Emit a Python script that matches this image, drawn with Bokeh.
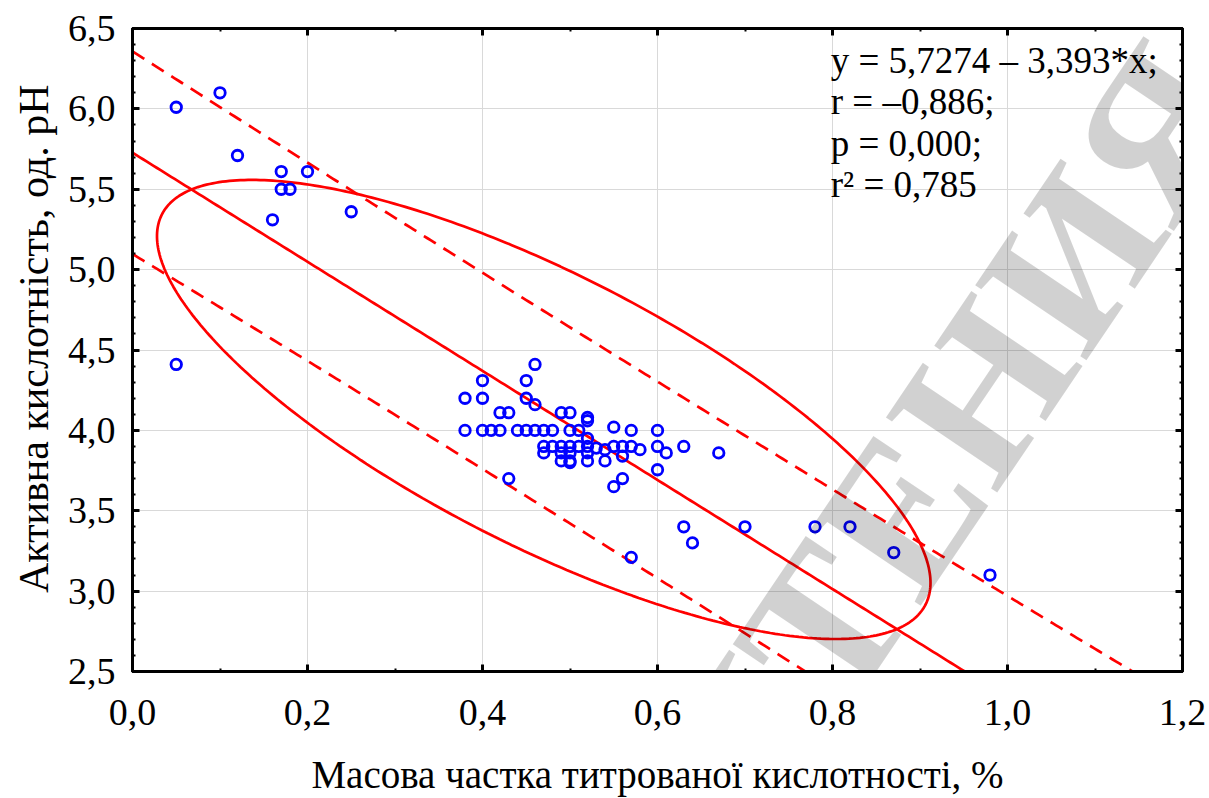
import numpy as np
from bokeh.plotting import figure
from bokeh.models import Range1d, LinearAxis, FixedTicker, Label, CustomJSTickFormatter, Title
from bokeh.embed import file_html
from bokeh.resources import INLINE

# ---- data ----
x_vals = [0.05, 0.10, 0.12, 0.17, 0.20, 0.17, 0.18, 0.16, 0.25, 0.05,
          0.46, 0.40, 0.45, 0.38, 0.40, 0.45, 0.46, 0.42, 0.43, 0.49, 0.50, 0.52, 0.52,
          0.38, 0.40, 0.41, 0.42, 0.44, 0.45, 0.46, 0.47, 0.48, 0.50, 0.51, 0.55, 0.57, 0.60,
          0.52,
          0.47, 0.48, 0.49, 0.50, 0.51, 0.52, 0.53, 0.54, 0.55, 0.56, 0.57, 0.58, 0.60, 0.61, 0.63, 0.67,
          0.47, 0.49, 0.50, 0.52, 0.56,
          0.49, 0.50, 0.50, 0.52, 0.54,
          0.60, 0.56, 0.55, 0.43,
          0.63, 0.64, 0.70, 0.78, 0.82, 0.87, 0.98, 0.57]
y_vals = [6.01, 6.10, 5.71, 5.61, 5.61, 5.50, 5.50, 5.31, 5.36, 4.41,
          4.41, 4.31, 4.31, 4.20, 4.20, 4.20, 4.16, 4.11, 4.11, 4.11, 4.11, 4.08, 4.06,
          4.00, 4.00, 4.00, 4.00, 4.00, 4.00, 4.00, 4.00, 4.00, 4.00, 4.00, 4.02, 4.00, 4.00,
          3.95,
          3.90, 3.90, 3.90, 3.90, 3.90, 3.90, 3.89, 3.88, 3.90, 3.90, 3.90, 3.88, 3.90, 3.86, 3.90, 3.86,
          3.86, 3.86, 3.86, 3.86, 3.84,
          3.81, 3.81, 3.80, 3.81, 3.81,
          3.755, 3.70, 3.65, 3.70,
          3.40, 3.30, 3.40, 3.40, 3.40, 3.24, 3.10, 3.21]

intercept = 5.7274
slope = -3.393
stats_lines = ["y = 5,7274 – 3,393*x;", "r = –0,886;", "p = 0,000;", "r² = 0,785"]
watermark_text = "ЧТЕНИЯ"
x_title = "Масова частка титрованої кислотності, %"
y_title = "Активна кислотність, од. рН"

# prediction band: half-width at the mean x and its growth
band_h0 = 0.61
band_c = 0.114
band_xm = 0.47

# 95% ellipse
ell_cx, ell_cy = 0.47, 4.13
ell_ax, ell_ay = 0.442, 1.428
ell_rho = -0.755

x_ticks = [0.0, 0.2, 0.4, 0.6, 0.8, 1.0, 1.2]
y_ticks = [2.5, 3.0, 3.5, 4.0, 4.5, 5.0, 5.5, 6.0, 6.5]

FONT = "Liberation Serif"
RED = "#ff0000"

p = figure(width=1209, height=798, output_backend="svg", toolbar_location=None,
           x_range=Range1d(0, 1.2), y_range=Range1d(2.5, 6.5),
           min_border_left=132, min_border_right=27, min_border_top=28, min_border_bottom=121,
           x_axis_label=x_title)
p.background_fill_color = "white"
p.border_fill_color = "white"
p.outline_line_color = "black"
p.outline_line_width = 3

x_minor = [round(0.1 * i, 1) for i in range(13)]
y_minor = [round(2.5 + 0.1 * i, 1) for i in range(41)]
fmt = CustomJSTickFormatter(code="return tick.toFixed(1).replace('.', ',');")
blank_fmt = CustomJSTickFormatter(code="return '';")

def style_axis(ax, ticks, minor, labels=True):
    ax.ticker = FixedTicker(ticks=ticks, minor_ticks=minor)
    ax.formatter = fmt if labels else blank_fmt
    ax.axis_line_width = 3
    ax.axis_line_color = "black"
    ax.major_tick_in = 7
    ax.major_tick_out = 0
    ax.minor_tick_in = 3
    ax.minor_tick_out = 0
    ax.major_tick_line_width = 3
    ax.minor_tick_line_width = 2
    ax.major_label_text_font = FONT
    ax.major_label_text_font_size = "38px"
    ax.major_label_text_color = "black"
    ax.axis_label_text_font = FONT
    ax.axis_label_text_font_style = "normal"
    ax.axis_label_text_color = "black"

style_axis(p.xaxis[0], x_ticks, x_minor)
style_axis(p.yaxis[0], y_ticks, y_minor)
p.xaxis[0].axis_label_text_font_size = "39px"
p.xaxis[0].major_label_standoff = 28
p.xaxis[0].axis_label_standoff = 25
p.yaxis[0].major_label_standoff = 17

top_ax = LinearAxis()
right_ax = LinearAxis()
style_axis(top_ax, x_ticks, x_minor, labels=False)
style_axis(right_ax, y_ticks, y_minor, labels=False)
top_ax.major_label_standoff = 0
right_ax.major_label_standoff = 0
p.add_layout(top_ax, "above")
p.add_layout(right_ax, "right")

# y axis title: a left-side title whose upper end sits a fixed distance below the frame top
p.add_layout(Title(text=y_title, align="right", offset=56, standoff=16,
                   text_font=FONT, text_font_size="42px", text_font_style="normal",
                   text_color="black"), "left")

p.xgrid.ticker = FixedTicker(ticks=x_ticks)
p.ygrid.ticker = FixedTicker(ticks=y_ticks)
p.grid.grid_line_color = "#d9d9d9"
p.grid.grid_line_width = 1

# regression line and prediction band
xs = np.linspace(0, 1.2, 300)
yfit = intercept + slope * xs
half = np.sqrt(band_h0 ** 2 + band_c * (xs - band_xm) ** 2)
p.line(xs, yfit, line_color=RED, line_width=2.7)
p.line(xs, yfit + half, line_color=RED, line_width=2.7, line_dash="14 9")
p.line(xs, yfit - half, line_color=RED, line_width=2.7, line_dash="14 9")

# ellipse
t = np.linspace(0, 2 * np.pi, 400)
ex = ell_cx + ell_ax * np.cos(t)
ey = ell_cy + ell_ay * (ell_rho * np.cos(t) + np.sqrt(1 - ell_rho ** 2) * np.sin(t))
p.line(ex, ey, line_color=RED, line_width=2.7)

# points
p.scatter(x_vals, y_vals, marker="circle", size=10.5, fill_color=None,
          line_color="#0000ff", line_width=2.8)

# statistics text
for i, s in enumerate(stats_lines):
    p.add_layout(Label(x=0.798, y=6.304 - i * 0.259, text=s, text_font=FONT,
                       text_font_size="37px", text_color="black",
                       text_baseline="alphabetic", text_align="left"))

# watermark
p.add_layout(Label(x=0.934, y=3.948, text=watermark_text, angle=0.977, text_font=FONT,
                   text_font_style="bold", text_font_size="205px",
                   text_color="rgba(0,0,0,0.18)", text_align="center", text_baseline="middle"))

open("out.html", "w").write(file_html(p, INLINE))
